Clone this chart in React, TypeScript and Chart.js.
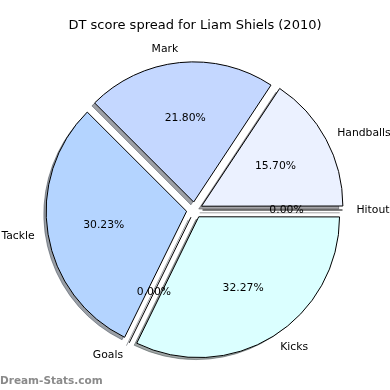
import React, { useEffect, useRef } from "react";
import { Chart, registerables } from "chart.js";

Chart.register(...registerables);

// Matplotlib order is counter-clockwise from east; Chart.js draws clockwise,
// so the categories are listed in reverse order.
const categories = ["Kicks", "Goals", "Tackle", "Mark", "Handballs", "Hitout"];
const shares = [32.27, 0.0, 30.23, 21.8, 15.7, 0.0];
const colors = ["#dbffff", "#d0e4ff", "#b4d4ff", "#c4d7ff", "#ebf1ff", "#f4f8ff"];
const titleText = "DT score spread for Liam Shiels (2010)";
const watermark = "Dream-Stats.com";

const FONT = "'DejaVu Sans', sans-serif";
const EXPLODE = 32; // Chart.js offset (translation = offset / 4)
const SHADOW_DX = -2.8;
const SHADOW_DY = 2.8;

function hexToRgb(h: string) {
  const n = parseInt(h.slice(1), 16);
  return [(n >> 16) & 255, (n >> 8) & 255, n & 255];
}

const piePlugin = {
  id: "mplPie",
  beforeDatasetsDraw(chart: any) {
    const ctx = chart.ctx;
    const meta = chart.getDatasetMeta(0);
    ctx.save();
    meta.data.forEach((el: any, i: number) => {
      const p = el.getProps(["x", "y", "startAngle", "endAngle", "outerRadius", "circumference"], true);
      const off = (el.options.offset || 0) / 4;
      const half = (p.startAngle + p.endAngle) / 2;
      const cx = p.x + Math.cos(half) * off + SHADOW_DX;
      const cy = p.y + Math.sin(half) * off + SHADOW_DY;
      const [r, g, b] = hexToRgb(colors[i]);
      const col = `rgba(${Math.round(r * 0.3)},${Math.round(g * 0.3)},${Math.round(b * 0.3)},0.5)`;
      ctx.fillStyle = col;
      ctx.strokeStyle = col;
      ctx.lineWidth = 1;
      ctx.beginPath();
      ctx.moveTo(cx, cy);
      if (p.circumference > 0) {
        ctx.arc(cx, cy, p.outerRadius, p.startAngle, p.endAngle);
        ctx.closePath();
        ctx.fill();
        ctx.stroke();
      } else {
        ctx.lineTo(cx + Math.cos(half) * p.outerRadius, cy + Math.sin(half) * p.outerRadius);
        ctx.stroke();
      }
    });
    ctx.restore();
  },
  afterDatasetsDraw(chart: any) {
    const ctx = chart.ctx;
    const meta = chart.getDatasetMeta(0);
    const total = shares.reduce((a, b) => a + b, 0);
    ctx.save();
    meta.data.forEach((el: any, i: number) => {
      const p = el.getProps(["x", "y", "startAngle", "endAngle", "outerRadius", "circumference"], true);
      const off = (el.options.offset || 0) / 4;
      const half = (p.startAngle + p.endAngle) / 2;
      const cx = p.x + Math.cos(half) * off;
      const cy = p.y + Math.sin(half) * off;
      const R = p.outerRadius;
      if (p.circumference === 0) {
        ctx.strokeStyle = "#000";
        ctx.lineWidth = 1;
        ctx.beginPath();
        ctx.moveTo(cx, cy);
        ctx.lineTo(cx + Math.cos(half) * R, cy + Math.sin(half) * R);
        ctx.stroke();
      }
      ctx.fillStyle = "#000";
      ctx.font = `10.8px ${FONT}`;
      ctx.textBaseline = "middle";
      ctx.textAlign = "center";
      const pct = ((shares[i] / total) * 100).toFixed(2) + "%";
      ctx.fillText(pct, cx + Math.cos(half) * R * 0.6, cy + Math.sin(half) * R * 0.6);
      const lx = cx + Math.cos(half) * R * 1.1;
      const ly = cy + Math.sin(half) * R * 1.1;
      ctx.textAlign = lx > p.x ? "left" : "right";
      ctx.fillText(categories[i], lx, ly);
    });
    ctx.textAlign = "center";
    ctx.textBaseline = "middle";
    ctx.font = `13px ${FONT}`;
    ctx.fillStyle = "#000";
    ctx.fillText(titleText, 195, 25.5);
    ctx.textAlign = "left";
    ctx.textBaseline = "alphabetic";
    ctx.font = `bold 10.5px ${FONT}`;
    ctx.fillStyle = "#8a8a8a";
    ctx.fillText(watermark, 0, 384);
    ctx.restore();
  },
};

export default function App() {
  const ref = useRef<HTMLCanvasElement | null>(null);
  useEffect(() => {
    if (!ref.current) return;
    const chart = new Chart(ref.current, {
      type: "pie",
      data: {
        labels: categories,
        datasets: [
          {
            data: shares,
            backgroundColor: colors,
            borderColor: "#000",
            borderWidth: 1,
            offset: EXPLODE,
          },
        ],
      },
      options: {
        responsive: false,
        animation: false,
        devicePixelRatio: 1,
        events: [],
        rotation: 90,
        layout: { padding: { left: 38, right: 39, top: 53.5, bottom: 23.5 } },
        plugins: {
          legend: { display: false },
          tooltip: { enabled: false },
          title: { display: false },
        },
      },
      plugins: [piePlugin],
    });
    return () => chart.destroy();
  }, []);
  return (
    <div style={{ position: "fixed", left: 0, top: 0, width: 390, height: 390, background: "#fff" }}>
      <canvas ref={ref} width={390} height={390} />
    </div>
  );
}
